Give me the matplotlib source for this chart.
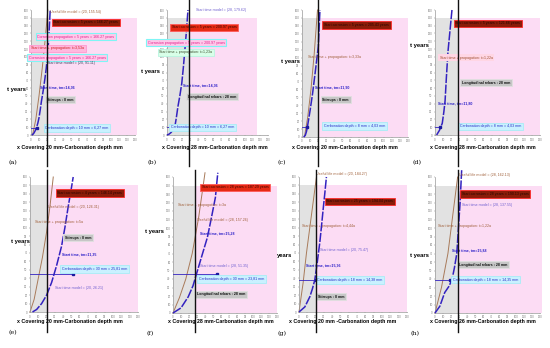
import matplotlib
matplotlib.use("Agg")
import matplotlib.pyplot as plt
from matplotlib.patches import Rectangle
from matplotlib.lines import Line2D

plt.rcParams['font.family'] = ['Liberation Sans', 'DejaVu Sans']

W, H = 550, 348

# ---------------- data ----------------
PANEL_LETTERS = ["(a)", "(b)", "(c)", "(d)", "(e)", "(f)", "(g)", "(h)"]
COVERS = [20, 28, 20, 28, 20, 28, 20, 28]
XLABELS = [
    "x Covering 20 mm-Carbonation depth mm",
    "x Covering 28 mm-Carbonation depth mm",
    "x Covering 20 mm-Carbonation depth mm",
    "x Covering 28 mm-Carbonation depth mm",
    "x Covering 20 mm-Carbonation depth mm",
    "x Covering 28 mm-Carbonation depth mm",
    "x Covering 20 mm -Carbonation depth mm",
    "x Covering 26 mm-Carbonation depth mm",
]
YLABELS = ["t years", "t years", "t years", "t years",
           "t years", "t years", "years", "t years"]

BLUE_X = [
    [1, 2.5, 4, 5.5, 7, 8.5, 10, 11.5, 13, 14.5, 16, 17.5, 19, 20.5, 22, 23, 24],
    [0, 2.5, 5, 7.5, 10, 12, 14, 16.5, 19, 21, 23, 25, 27],
    [2, 3, 4, 5.5, 7, 10, 13, 16.5, 20, 21, 22],
    [2, 5.5, 9, 11, 12.5, 14, 16, 18.5, 21],
    [3, 8, 14, 20, 26, 32, 38, 42, 46, 49, 52],
    [0, 10, 19, 25, 30, 36, 43, 48, 53, 56],
    [0, 7, 13, 16, 19, 22, 25, 27, 29, 31, 33],
    [0, 6, 12, 17, 21, 24, 27, 29, 31, 33],
]
BLUE_T = [
    [0, 1, 3, 6, 10, 15, 22, 32, 43, 52, 62, 73, 85, 100, 120, 140, 160],
    [0, 1, 3, 6, 10, 22, 36, 50, 66, 86, 109, 133, 160],
    [0, 1, 2, 7, 15, 34, 55, 84, 114, 137, 160],
    [0, 6, 15, 30, 44, 72, 106, 133, 160],
    [0, 3, 10, 20, 35, 55, 78, 100, 125, 142, 160],
    [0, 6, 19, 32, 48, 67, 89, 112, 136, 165],
    [0, 6, 18, 27, 38, 59, 82, 101, 121, 140, 160],
    [0, 8, 24, 31, 39, 53, 70, 100, 129, 168],
]
BROWN_X = [
    [2, 6, 10, 14, 18, 21],
    [],
    [3, 7, 11, 15, 19],
    [],
    [0, 5, 10, 15, 20, 24, 28],
    [0, 8, 16, 24, 32, 40],
    [0, 5, 9, 13, 17, 21],
    [0, 8, 16, 22, 28],
]
BROWN_T = [
    [0, 20, 50, 85, 125, 160],
    [],
    [0, 25, 60, 105, 160],
    [],
    [0, 15, 40, 65, 95, 125, 160],
    [0, 18, 40, 70, 112, 165],
    [0, 35, 70, 100, 130, 160],
    [0, 30, 70, 115, 160],
]
CARB_X = [8, 10, 6, 6, 52, 55, 20, 18]
CARB_T = [9, 10, 12, 10, 45, 46, 38, 39]

ANNOTS = [
    [("Useful life model = (20, 155.54)", 24, 158, "brown"),
     ("Start corrosion = 5 years = 166.27 years", 28, 144, "dark"),
     ("Corrosion propagation = 5 years = 166.27 years", 8, 126, "pinkc"),
     ("Start time + propagation: t=3,53a", 0, 111, "lpink"),
     ("Corrosion propagation = 5 years = 166.27 years", -3, 99, "pinkc"),
     ("Start time model = (20, 91.11)", 20, 92, "dim"),
     ("Start time, tm=14,36", 11, 61, "blue"),
     ("Stirrups : 8 mm", 20, 45, "gray"),
     ("Carbonation depth = 10 mm = 6,27 mm", 18, 9, "cyan")],
    [("Start time model = (28, 179.62)", 37, 160, "purple"),
     ("Start corrosion = 5 years = 200.97 years", 6, 138, "red"),
     ("Corrosion propagation = 5 years = 200.97 years", -25, 118, "pinkc"),
     ("Start time + propagation: t=1,23a", -10, 106, "green"),
     ("Start time, tm=14,36", 20, 64, "blue"),
     ("Longitudinal rebars : 28 mm", 27, 49, "gray"),
     ("Carbonation depth = 10 mm = 6,27 mm", 5, 10, "cyan")],
    [("Start corrosion = 5 years = 205.43 years", 27, 141, "dark"),
     ("Start time + propagation: t=3,33a", 7, 101, "brown"),
     ("Start time, tm=11,90", 16, 63, "blue"),
     ("Stirrups : 8 mm", 25, 47, "gray"),
     ("Carbonation depth = 8 mm = 4,03 mm", 27, 14, "cyan")],
    [("Start corrosion = 5 years = 121.66 years", 25, 143, "dark"),
     ("Start time + propagation: t=1,22a", 6, 99, "lpink2"),
     ("Longitudinal rebars : 28 mm", 33, 67, "gray"),
     ("Start time, tm=11,80", 4, 41, "blue"),
     ("Carbonation depth = 8 mm = 4,03 mm", 31, 11, "cyan")],
    [("Start corrosion = 4 years = 146.14 years", 33, 141, "dark"),
     ("Useful life model = (20, 126.31)", 22, 125, "brown"),
     ("Start time + propagation: t=5a", 6, 107, "brown"),
     ("Stirrups : 8 mm", 42, 88, "gray"),
     ("Start time, tm=11,35", 38, 68, "blue"),
     ("Carbonation depth = 30 mm = 25,81 mm", 38, 51, "cyan"),
     ("Start time model = (20, 26.21)", 30, 28, "purple")],
    [("Start corrosion = 28 years = 187.29 years", 36, 148, "red"),
     ("Start time + propagation: t=3a", 6, 127, "brown"),
     ("Useful life model = (28, 157.26)", 30, 110, "brown"),
     ("Start time, tm=15,28", 34, 94, "blue"),
     ("Start time model = (28, 51.35)", 34, 55, "purple"),
     ("Carbonation depth = 30 mm = 23,81 mm", 32, 40, "cyan"),
     ("Longitudinal rebars : 28 mm", 30, 22, "gray")],
    [("Useful life model = (20, 184.27)", 20, 163, "brown"),
     ("Start corrosion = 25 years = 194.04 years", 33, 131, "dark"),
     ("Start time + propagation: t=4,44a", 4, 102, "brown"),
     ("Start time model = (20, 75.47)", 25, 74, "purple"),
     ("Start time, tm=15,36", 9, 55, "blue"),
     ("Carbonation depth = 18 mm = 14,38 mm", 22, 38, "cyan"),
     ("Stirrups : 8 mm", 23, 18, "gray")],
    [("Useful life model = (28, 162.13)", 30, 162, "brown"),
     ("Start corrosion = 28 years = 190.13 years", 33, 140, "dark"),
     ("Start time model = (28, 137.55)", 33, 127, "purple"),
     ("Start time + propagation: t=1,22a", 4, 102, "brown"),
     ("Start time, tm=15,88", 21, 74, "blue"),
     ("Longitudinal rebars : 28 mm", 30, 57, "gray"),
     ("Carbonation depth = 18 mm = 14,35 mm", 22, 39, "cyan")],
]

# ---------------- layout (pixels) ----------------
AX_PX = [(31, 10, 135, 135), (167, 10, 268, 135), (302, 10, 408, 137), (435, 10, 540, 135),
         (30, 177, 138, 312), (173, 177, 277, 313), (299, 177, 407, 312), (435, 177, 540, 313)]
PINK_END = [132, 116, 130, 130, 130, 130, 130, 132]
YLAB_PX = [(16, 90), (150, 72), (290, 62), (419, 45), (20, 241), (154, 231), (285, 256), (419, 255)]
XLAB_PX = [(70, 148), (215, 148), (345, 148), (483, 148), (70, 322), (221, 322), (343, 322), (483, 322)]
LET_PX = [(13, 163), (152, 163), (282, 163), (417, 163), (13, 333), (150, 334), (282, 333), (415, 334)]
VLINE_PX = [(0, 166), (0, 166), (0, 166), (0, 166), (170, 332), (170, 332), (170, 332), (170, 332)]

STYLES = {
    "dark": dict(color="#2a0500", bbox=dict(boxstyle="square,pad=0.45", fc="#8a1c08", ec="#ff2a2a", lw=0.6)),
    "red": dict(color="#3a0500", bbox=dict(boxstyle="square,pad=0.45", fc="#e52a14", ec="#ff5a5a", lw=0.6)),
    "cyan": dict(color="#2b2bc8", bbox=dict(boxstyle="square,pad=0.45", fc="#c9f1ff", ec="#a8ecf6", lw=0.6)),
    "gray": dict(color="#111111", fontweight="bold", bbox=dict(boxstyle="square,pad=0.45", fc="#c6c6c6", ec="#e0e0e0", lw=0.6)),
    "pinkc": dict(color="#e0208c", bbox=dict(boxstyle="square,pad=0.45", fc="#ffc8ea", ec="#7ff5f5", lw=0.8)),
    "lpink": dict(color="#d0201a", bbox=dict(boxstyle="square,pad=0.45", fc="#ffb8de", ec="#ff9ad0", lw=0.6)),
    "lpink2": dict(color="#a05030", bbox=dict(boxstyle="square,pad=0.45", fc="#ffd6e4", ec="none", lw=0.6)),
    "green": dict(color="#405030", bbox=dict(boxstyle="square,pad=0.45", fc="#d8ffe8", ec="#b8f5e0", lw=0.6)),
    "blue": dict(color="#2b1fc8", fontweight="bold"),
    "brown": dict(color="#a0603a"),
    "purple": dict(color="#7060d0"),
    "dim": dict(color="#404060"),
}

fig = plt.figure(figsize=(W / 100, H / 100), dpi=100)
fig.patch.set_facecolor("white")

for i in range(8):
    x0, yt, x1, yb = AX_PX[i]
    ax = fig.add_axes([x0 / W, 1 - yb / H, (x1 - x0) / W, (yb - yt) / H])
    ax.set_xlim(0, 130)
    ax.set_ylim(0, 160)
    ax.set_facecolor("none")
    cov = COVERS[i]
    ax.add_patch(Rectangle((0, 0), cov, 150, fc="#e2e2e2", ec="none", zorder=0))
    ax.add_patch(Rectangle((cov, 0), PINK_END[i] - cov, 150, fc="#fcdcf4", ec="none",
                           zorder=0, clip_on=False))
    if BROWN_X[i]:
        ax.plot(BROWN_X[i], BROWN_T[i], color="#a87a5a", lw=0.7, zorder=2, clip_on=False)
    ax.plot(BLUE_X[i], BLUE_T[i], color="#3322c0", lw=1.1, ls=(0, (6, 1)), zorder=3,
            clip_on=False, solid_joinstyle="round", dash_joinstyle="round")
    # carbonation horizontal marker
    ax.plot([0, CARB_X[i]], [CARB_T[i], CARB_T[i]], color="#3322c0", lw=0.6, zorder=3)
    ax.plot([CARB_X[i]], [CARB_T[i]], marker="s", ms=1.6, color="#1a1aa0", zorder=4)
    for txt, tx, ty, st in ANNOTS[i]:
        ax.text(tx, ty, txt, fontsize=2.6, ha="left", va="center", zorder=5,
                clip_on=False, **STYLES[st])
    ax.set_xticks(range(0, 131, 10))
    ax.set_yticks(range(0, 161, 10))
    ax.tick_params(labelsize=2.0, length=1, width=0.3, colors="#777777", pad=0.8)
    for s in ("top", "right"):
        ax.spines[s].set_visible(False)
    for s in ("left", "bottom"):
        ax.spines[s].set_color("#999999")
        ax.spines[s].set_linewidth(0.5)

    fig.text(YLAB_PX[i][0] / W, 1 - YLAB_PX[i][1] / H, YLABELS[i], fontsize=4.2,
             fontweight="bold", ha="center", va="center")
    fig.text(XLAB_PX[i][0] / W, 1 - XLAB_PX[i][1] / H, XLABELS[i], fontsize=3.8,
             fontweight="bold", ha="center", va="center")
    fig.text(LET_PX[i][0] / W, 1 - LET_PX[i][1] / H, PANEL_LETTERS[i], fontsize=4.5,
             family="DejaVu Serif", ha="center", va="center")
    xl = x0 + cov * (x1 - x0) / 130
    fig.add_artist(Line2D([xl / W, xl / W], [1 - VLINE_PX[i][0] / H, 1 - VLINE_PX[i][1] / H],
                          color="#111111", lw=1.0, zorder=10))

fig.savefig("out.png", dpi=100)
